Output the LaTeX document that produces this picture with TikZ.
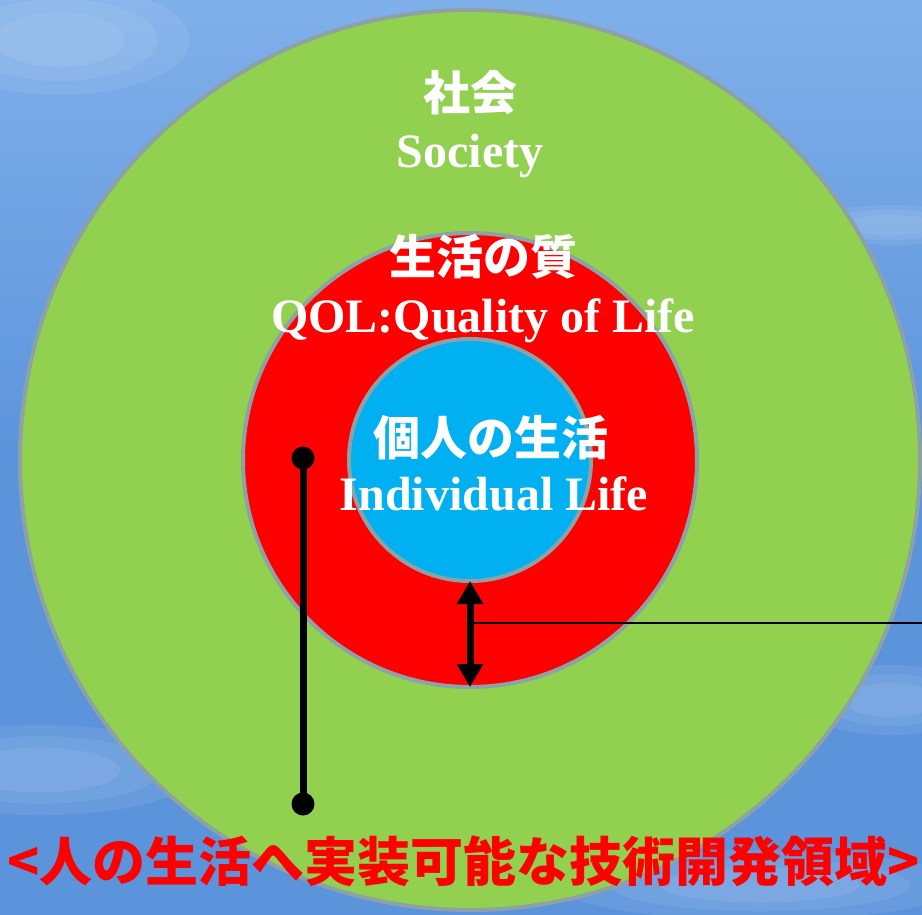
\documentclass[tikz,border=0pt]{standalone}
\usepackage{fontspec}
\setmainfont{Liberation Serif}
\newfontfamily\jpfont{Noto Sans CJK JP}
\usetikzlibrary{arrows.meta}
\definecolor{skyblue}{RGB}{92,148,220}
\definecolor{skylight}{RGB}{128,176,234}
\definecolor{socgreen}{RGB}{146,208,80}
\definecolor{qolred}{RGB}{255,0,0}
\definecolor{lifeblue}{RGB}{0,176,240}
\definecolor{rimgray}{RGB}{140,162,166}
\begin{document}
\begin{tikzpicture}[x=1pt,y=-1pt]
			\tikzstyle{every node}+=[inner sep=0pt]
			\tikzstyle{ring}=[circle, draw=rimgray, line width=4pt, outer sep=0pt]
			\tikzstyle{jptext}=[font=\jpfont\bfseries\fontsize{47}{47}\selectfont, text=white]
			\tikzstyle{entext}=[font=\bfseries\fontsize{48}{48}\selectfont, text=white, anchor=base]
			\tikzstyle{cloud}=[white, fill opacity=0.07]
			\useasboundingbox (0,0) rectangle (922,914);
			% sky
			\shade [top color=skylight, bottom color=skyblue, middle color=skyblue] (0,0) rectangle (922,914);
			\foreach \s in {1,0.75,0.5} {
				\fill [cloud] (60,40) ellipse (\s*130 and \s*55);
				\fill [cloud] (40,770) ellipse (\s*160 and \s*45);
				\fill [cloud] (890,225) ellipse (\s*90 and \s*20);
				\fill [cloud] (890,700) ellipse (\s*90 and \s*35);
				\fill [cloud] (760,885) ellipse (\s*200 and \s*35);
			}
			% rings
			\node [ring, fill=socgreen, minimum size=900pt] (society) at (470,460) {};
			\node [ring, fill=qolred, minimum size=454pt] (qol) at (470,460) {};
			\node [ring, fill=lifeblue, minimum size=242pt] (life) at (470,460) {};
			% labels
			\node [jptext] (socjp) at (470,93) {社会};
			\node [entext] (socen) at (470,167) {Society};
			\node [jptext] (qoljp) at (483,257) {生活の質};
			\node [entext] (qolen) at (483,332) {QOL:Quality of Life};
			\node [jptext] (lifejp) at (491,438) {個人の生活};
			\node [entext] (lifeen) at (494,510) {Individual Life};
			% span and width marks
			\draw [black, line width=7pt, {Triangle[width=25pt,length=23pt]}-{Triangle[width=25pt,length=23pt]}] (life.south) -- (qol.south);
			\coordinate (tap) at (470,623);
			\coordinate (rim) at (922,623);
			\draw [black, line width=2pt] (tap) -- (rim);
			\coordinate (spantop) at (303,458);
			\coordinate (spanbot) at (303,804);
			\draw [black, line width=7pt] (spantop) -- (spanbot);
			\fill [black] (spantop) circle (11.5);
			\fill [black] (spanbot) circle (11.5);
			% caption
			\node [font=\jpfont\bfseries\fontsize{53}{53}\selectfont, text=qolred] (caption) at (464,861) {<人の生活へ実装可能な技術開発領域>};
\end{tikzpicture}
\end{document}
